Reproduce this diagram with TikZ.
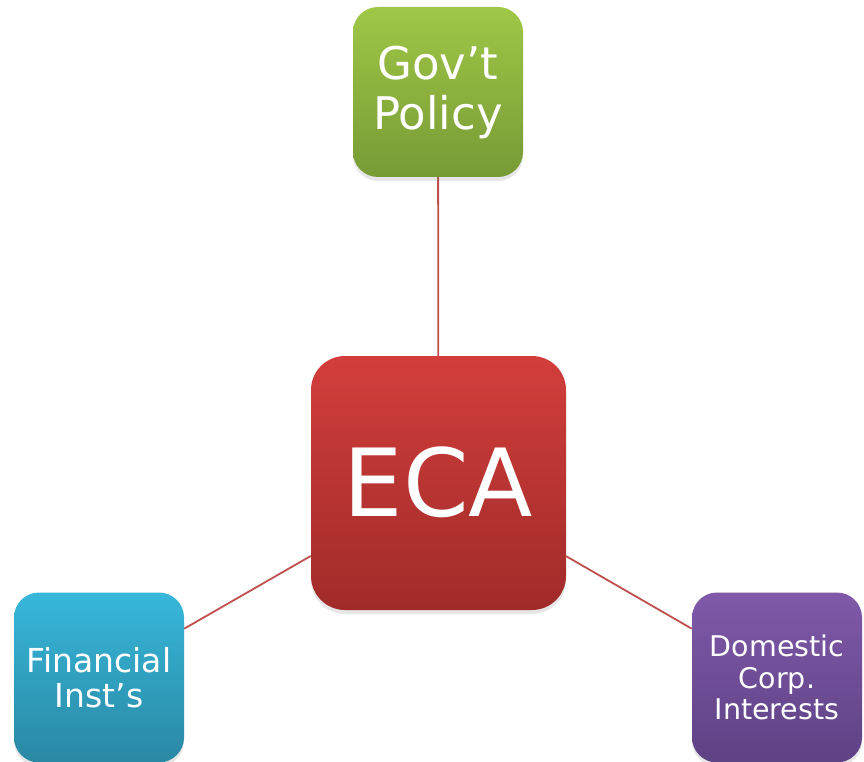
\documentclass[tikz,border=0pt]{standalone}
\usepackage{fontspec}
\setmainfont{DejaVu Sans}
\usetikzlibrary{shadows,backgrounds}
\definecolor{grtop}{HTML}{9FC747}
\definecolor{grbot}{HTML}{789A35}
\definecolor{rdtop}{HTML}{D23E3B}
\definecolor{rdbot}{HTML}{A02B29}
\definecolor{bltop}{HTML}{37B7DA}
\definecolor{blbot}{HTML}{2A88A4}
\definecolor{pptop}{HTML}{8059A9}
\definecolor{ppbot}{HTML}{5D4284}
\definecolor{linkred}{HTML}{C0504D}
\tikzset{
  box/.style={rounded corners=25pt, minimum width=170pt, minimum height=170pt,
    inner sep=0pt, align=center, text=white,
    drop shadow={shadow xshift=0pt, shadow yshift=-4pt, opacity=0.2}},
  link/.style={draw=linkred, line width=1.8pt}
}
\begin{document}
\begin{tikzpicture}[x=1pt,y=-1pt]
\useasboundingbox (0,0) rectangle (864,762);
\node[box, top color=grtop, bottom color=grbot, font=\fontsize{45}{50}\selectfont] (gov) at (438,92) {Gov’t\\Policy};
\node[box, rounded corners=34pt, minimum width=255pt, minimum height=254pt,
  top color=rdtop, bottom color=rdbot, font=\fontsize{94}{104}\selectfont] (eca) at (438.5,483) {\raisebox{3pt}{ECA}};
\node[box, top color=bltop, bottom color=blbot, font=\fontsize{33}{35}\selectfont] (fin) at (99,677.5) {Financial\\Inst’s};
\node[box, top color=pptop, bottom color=ppbot, font=\fontsize{28.5}{31.5}\selectfont] (dom) at (777,677.5) {Domestic\\Corp.\\Interests};
\begin{scope}[on background layer]
\draw[link] (eca) -- (gov);
\draw[link] (eca) -- (fin);
\draw[link] (eca) -- (dom);
\end{scope}
\end{tikzpicture}
\end{document}
